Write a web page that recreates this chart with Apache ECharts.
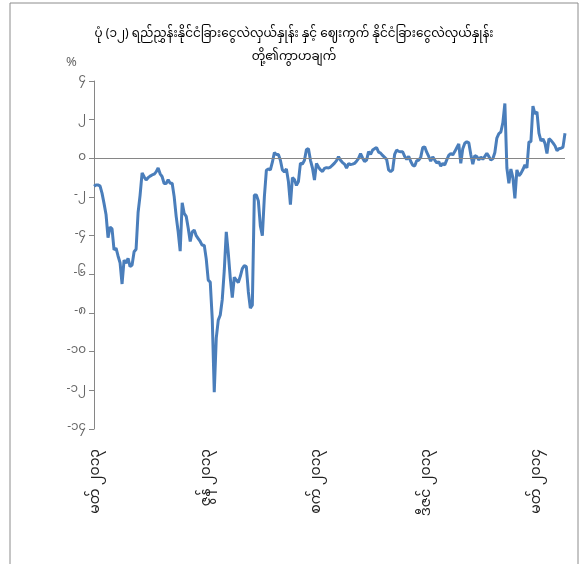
<!DOCTYPE html>
<html><head><meta charset="utf-8">
<script src="https://cdn.jsdelivr.net/npm/echarts@6/dist/echarts.min.js"></script>
<style>html,body{margin:0;padding:0;background:#fff}#c{width:588px;height:564px}</style>
</head><body><div id="c"></div>
<script>
var titleText = 'ပုံ (၁၂) ရည်ညွှန်းနိုင်ငံခြားငွေလဲလှယ်နှုန်း နှင့် ဈေးကွက် နိုင်ငံခြားငွေလဲလှယ်နှုန်း\nတို့၏ကွာဟချက်';
var gapValues = [
-1.45,-1.38,-1.38,-1.42,-1.8,-2.33,-2.9,-4.1,-3.55,-3.65,
-4.74,-4.65,-5.05,-5.4,-6.5,-5.26,-5.43,-5.17,-5.6,-5.52,
-4.83,-4.7,-2.8,-1.9,-0.75,-0.95,-1.12,-1.0,-0.92,-0.86,
-0.82,-0.7,-0.5,-0.8,-0.95,-1.3,-1.3,-1.1,-1.29,-1.29,
-1.98,-3.0,-3.8,-4.8,-2.3,-2.85,-3.0,-3.6,-4.3,-3.8,
-3.71,-4.0,-4.15,-4.3,-4.5,-4.49,-5.2,-6.3,-6.4,-8.3,
-12.1,-9.3,-8.37,-8.1,-7.3,-5.8,-3.8,-4.9,-6.2,-7.2,
-6.15,-6.3,-6.42,-6.1,-5.7,-5.55,-5.6,-6.9,-7.75,-7.6,
-1.9,-1.9,-2.2,-3.5,-4.0,-2.0,-0.62,-0.55,-0.6,-0.2,
0.3,0.2,0.2,-0.1,-0.6,-0.7,-0.55,-1.2,-2.4,-1.0,
-1.1,-1.4,-1.2,-0.25,-0.3,-0.1,0.45,0.5,-0.1,-0.5,
-1.12,-0.26,-0.45,-0.6,-0.68,-0.52,-0.48,-0.5,-0.45,-0.35,
-0.25,-0.12,0.08,-0.1,-0.22,-0.3,-0.5,-0.28,-0.32,-0.3,
-0.26,-0.15,0.0,0.24,0.02,-0.17,-0.09,0.35,0.2,0.43,
0.5,0.55,0.32,0.27,0.15,0.05,-0.05,-0.6,-0.69,-0.6,
0.2,0.43,0.36,0.34,0.34,0.1,-0.05,0.1,-0.15,-0.35,
-0.4,-0.12,-0.1,0.05,0.55,0.6,0.32,0.1,-0.15,0.08,
-0.09,-0.24,-0.17,-0.4,-0.27,-0.34,-0.08,0.15,0.25,0.18,
0.35,0.55,0.75,-0.26,0.5,0.78,0.86,0.8,0.2,-0.3,
0.14,0.09,-0.08,0.07,-0.05,0.1,0.26,0.1,-0.08,-0.02,
0.3,1.05,1.28,1.36,1.85,2.84,-0.5,-1.29,-0.55,-1.0,
-2.07,-0.6,-0.9,-0.78,-0.58,-0.34,-0.5,0.85,0.86,2.7,
2.3,2.4,1.3,0.9,1.0,0.78,0.25,1.02,0.93,0.8,
0.65,0.4,0.5,0.52,0.58,1.3
];
var xLabels = ['မတ် ၂၀၁၃', 'ဇွန် ၂၀၁၃', 'စက် ၂၀၁၃', 'ဒီဇင် ၂၀၁၃', 'မတ် ၂၀၁၄'];
var xLabelIdx = [2, 57, 112, 167, 222];
var yTickLabels = {'-14':'-၁၄','-12':'-၁၂','-10':'-၁၀','-8':'-၈','-6':'-၆','-4':'-၄','-2':'-၂','0':'၀','2':'၂','4':'၄'};

var categories = gapValues.map(function(v, i){ return String(i); });
var FF = '"Noto Sans Myanmar","Padauk","Myanmar Text","Noto Sans",sans-serif';
var chart = echarts.init(document.getElementById('c'), null, {renderer:'canvas'});
chart.setOption({
  animation: false,
  backgroundColor: '#fff',
  textStyle: {fontFamily: FF},
  title: {
    text: titleText, left: 'center', top: 19,
    textStyle: {fontSize: 12, fontWeight: 'normal', color: '#000', fontFamily: FF, lineHeight: 23}
  },
  graphic: [
    {type:'rect', shape:{x:10, y:3, width:568, height:600}, style:{fill:'none', stroke:'#8c8c8c', lineWidth:1}, silent:true},
    {type:'text', left: 66, top: 58, style:{text:'%', fontSize:13, fill:'#666', fontFamily: FF}}
  ],
  grid: {left: 94, right: 23, top: 81, bottom: 135},
  xAxis: {
    type: 'category', data: categories, boundaryGap: false,
    axisLine: {show: false}, axisTick: {show: false}, splitLine: {show:false},
    axisLabel: {
      rotate: 90, margin: 20, fontSize: 14, color: '#222', fontFamily: FF,
      interval: function(i){ return xLabelIdx.indexOf(i) >= 0; },
      formatter: function(v, i){ var k = xLabelIdx.indexOf(i); return k >= 0 ? xLabels[k] : ''; }
    }
  },
  yAxis: {
    type: 'value', min: -14, max: 4, interval: 2,
    axisLine: {show: true, lineStyle: {color: '#868686'}},
    axisTick: {show: true, length: 5, lineStyle: {color: '#868686'}},
    splitLine: {show: false},
    axisLabel: {margin: 8, fontSize: 12, color: '#666', fontFamily: FF,
      formatter: function(v){ return yTickLabels[String(v)]; }}
  },
  series: [{
    type: 'line', data: gapValues, showSymbol: false, symbol: 'none',
    lineStyle: {color: '#4a7ebb', width: 3}, itemStyle: {color: '#4a7ebb'},
    markLine: {silent: true, symbol: 'none', label: {show: false},
      lineStyle: {color: '#868686', width: 1, type: 'solid'},
      data: [{yAxis: 0}]},
    z: 3
  }]
});
</script></body></html>
